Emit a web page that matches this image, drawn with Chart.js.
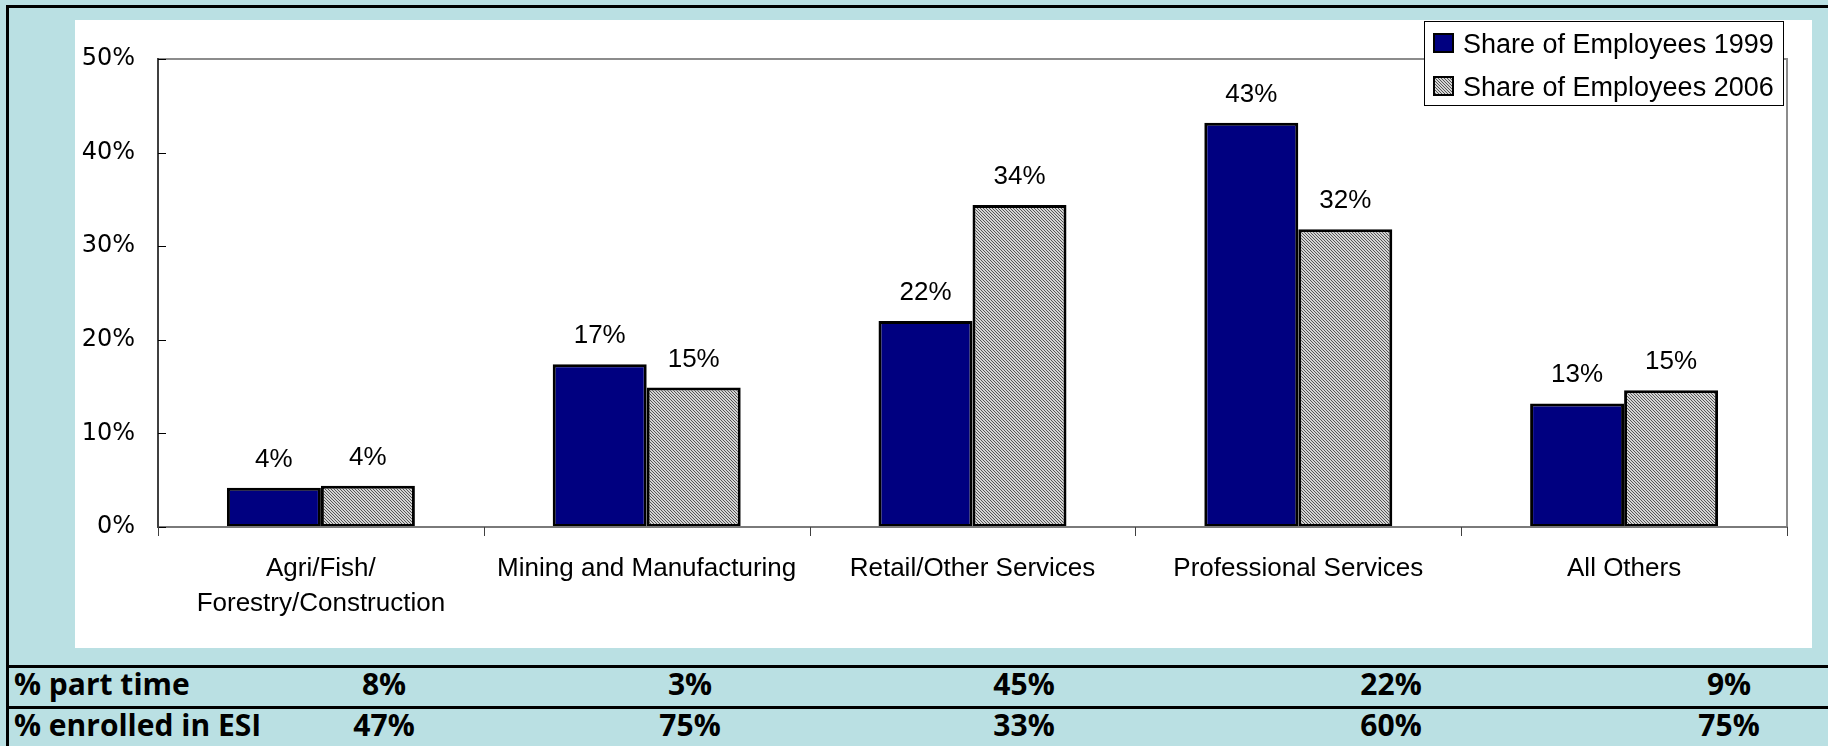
<!DOCTYPE html>
<html>
<head>
<meta charset="utf-8">
<script src="https://cdn.jsdelivr.net/npm/chart.js@4/dist/chart.umd.min.js"></script>
<style>
  html, body { margin: 0; padding: 0; }
  body { width: 1828px; height: 746px; overflow: hidden; background: #BAE0E3; position: relative; }
  .rule { position: absolute; background: #000; }
  #panel { position: absolute; left: 75px; top: 20px; width: 1737px; height: 628px; background: #fff; }
  #chart { display: block; }
  .row { position: absolute; left: 0; width: 1828px; height: 40px; line-height: 40px;
         font-family: 'Open Sans', 'DejaVu Sans', sans-serif; font-weight: 700; font-size: 30px; color: #000; }
  .row span { position: absolute; top: 0; white-space: nowrap; }
</style>
</head>
<body>
<div id="panel"><canvas id="chart" width="1737" height="628"></canvas></div>
<div class="rule" style="left:6px;top:5px;width:1822px;height:3px"></div>
<div class="rule" style="left:6px;top:5px;width:3px;height:741px"></div>
<div class="rule" style="left:6px;top:665px;width:1822px;height:3px"></div>
<div class="rule" style="left:6px;top:706px;width:1822px;height:3px"></div>
<div id="table"></div>
<script>
// Industry groups on the x axis
const categories = [
  ['Agri/Fish/', 'Forestry/Construction'],
  'Mining and Manufacturing',
  'Retail/Other Services',
  'Professional Services',
  'All Others'
];
const seriesNames = ['Share of Employees 1999', 'Share of Employees 2006'];
// Share of employees by industry (percent)
const share1999 = [4.2, 17.4, 22.0, 43.2, 13.2];
const share2006 = [4.4, 14.9, 34.4, 31.8, 14.6];
// Value axis ticks (percent)
const yTicks = [0, 10, 20, 30, 40, 50];
// Table rows under the chart (percent)
const rowLabels = ['% part time', '% enrolled in ESI'];
const partTime = [8, 3, 45, 22, 9];
const enrolledESI = [47, 75, 33, 60, 75];

const pct = v => Math.round(v) + '%';
const LABEL_FONT = "'Liberation Sans', Arial, sans-serif";

// fine diagonal hatch used for the 2006 series
function makeHatch() {
  const c = document.createElement('canvas');
  c.width = 3; c.height = 3;
  const g = c.getContext('2d');
  g.fillStyle = '#d4d4d4';
  g.fillRect(0, 0, 3, 3);
  g.fillStyle = '#555555';
  for (let i = 0; i < 3; i++) g.fillRect(i, i, 1, 1);
  return g.createPattern(c, 'repeat');
}
const hatch = makeHatch();

const decor = {
  id: 'decor',
  beforeDatasetsDraw(chart) {
    const { ctx, chartArea: a } = chart;
    ctx.save();
    ctx.strokeStyle = '#8c8c8c';
    ctx.lineWidth = 2;
    ctx.beginPath();
    ctx.moveTo(a.left, a.top);
    ctx.lineTo(a.right, a.top);
    ctx.lineTo(a.right, a.bottom);
    ctx.stroke();
    ctx.restore();
  },
  afterDatasetsDraw(chart) {
    const { ctx, chartArea: a, scales: { x, y } } = chart;
    ctx.save();
    // axis lines
    ctx.lineWidth = 2;
    ctx.strokeStyle = '#7a7a7a';
    ctx.beginPath();
    ctx.moveTo(a.left, a.bottom);
    ctx.lineTo(a.right + 1, a.bottom);
    ctx.stroke();
    ctx.strokeStyle = '#404040';
    ctx.beginPath();
    ctx.moveTo(a.left, a.top - 1);
    ctx.lineTo(a.left, a.bottom + 1);
    ctx.stroke();
    // inward value ticks
    ctx.lineWidth = 1;
    ctx.strokeStyle = '#000';
    y.ticks.forEach(t => {
      const py = Math.round(y.getPixelForValue(t.value)) + 0.5;
      ctx.beginPath();
      ctx.moveTo(a.left, py);
      ctx.lineTo(a.left + 8, py);
      ctx.stroke();
    });
    // category boundary ticks below the axis
    ctx.strokeStyle = '#404040';
    for (let i = 0; i <= categories.length; i++) {
      const px = Math.round(x.getPixelForValue(i - 0.5)) + 0.5;
      ctx.beginPath();
      ctx.moveTo(px, a.bottom);
      ctx.lineTo(px, a.bottom + 9);
      ctx.stroke();
    }
    // value labels above bars
    ctx.fillStyle = '#000';
    ctx.font = '26px ' + LABEL_FONT;
    ctx.textAlign = 'center';
    ctx.textBaseline = 'alphabetic';
    chart.data.datasets.forEach((ds, di) => {
      chart.getDatasetMeta(di).data.forEach((el, i) => {
        ctx.fillText(pct(ds.data[i]), el.x, el.y - 21);
      });
    });
    // legend
    const lx = 1349.5, ly = 1.5, lw = 359, lh = 84;
    ctx.fillStyle = '#fff';
    ctx.fillRect(lx, ly, lw, lh);
    ctx.strokeStyle = '#000';
    ctx.lineWidth = 1;
    ctx.strokeRect(lx, ly, lw, lh);
    ctx.font = '27px ' + LABEL_FONT;
    ctx.textAlign = 'left';
    chart.data.datasets.forEach((ds, di) => {
      const top = 13 + di * 43;
      ctx.fillStyle = ds.backgroundColor;
      ctx.fillRect(1358, top, 21, 20);
      ctx.lineWidth = 2;
      ctx.strokeStyle = '#000';
      ctx.strokeRect(1359, top + 1, 19, 18);
      ctx.fillStyle = '#000';
      ctx.fillText(ds.label, 1388, top + 20);
    });
    ctx.restore();
  }
};

new Chart(document.getElementById('chart'), {
  type: 'bar',
  data: {
    labels: categories,
    datasets: [
      { label: seriesNames[0], data: share1999, backgroundColor: '#000080',
        borderColor: '#000', borderWidth: 3, borderSkipped: false },
      { label: seriesNames[1], data: share2006, backgroundColor: hatch,
        borderColor: '#000', borderWidth: 3, borderSkipped: false }
    ]
  },
  options: {
    responsive: false,
    animation: false,
    devicePixelRatio: 1,
    layout: { padding: { top: 39, right: 25, left: 0, bottom: 0 } },
    datasets: { bar: { barPercentage: 1, categoryPercentage: 0.577 } },
    plugins: { legend: { display: false }, tooltip: { enabled: false } },
    scales: {
      x: {
        grid: { display: false, drawTicks: false },
        border: { display: false },
        ticks: {
          autoSkip: false, maxRotation: 0, minRotation: 0, padding: 24, color: '#000',
          font: { family: LABEL_FONT, size: 26, lineHeight: 35 / 26 }
        },
        afterFit(s) { s.height = 121; }
      },
      y: {
        min: 0, max: 50,
        grid: { display: false, drawTicks: false },
        border: { display: false },
        afterBuildTicks(s) { s.ticks = yTicks.map(v => ({ value: v })); },
        ticks: {
          padding: 23, color: '#000',
          font: { family: "'DejaVu Sans', Verdana, sans-serif", size: 24 },
          callback: v => v + '%'
        },
        afterFit(s) { s.width = 83; }
      }
    }
  },
  plugins: [decor]
});

// table rows under the chart
const colCenters = [384, 690, 1024, 1391, 1729];
const rowTops = [664, 705];
const table = document.getElementById('table');
[partTime, enrolledESI].forEach((vals, r) => {
  const row = document.createElement('div');
  row.className = 'row';
  row.style.top = rowTops[r] + 'px';
  const lab = document.createElement('span');
  lab.textContent = rowLabels[r];
  lab.style.left = '14px';
  row.appendChild(lab);
  vals.forEach((v, i) => {
    const s = document.createElement('span');
    s.textContent = v + '%';
    s.style.left = colCenters[i] + 'px';
    s.style.transform = 'translateX(-50%)';
    row.appendChild(s);
  });
  table.appendChild(row);
});
</script>
</body>
</html>
